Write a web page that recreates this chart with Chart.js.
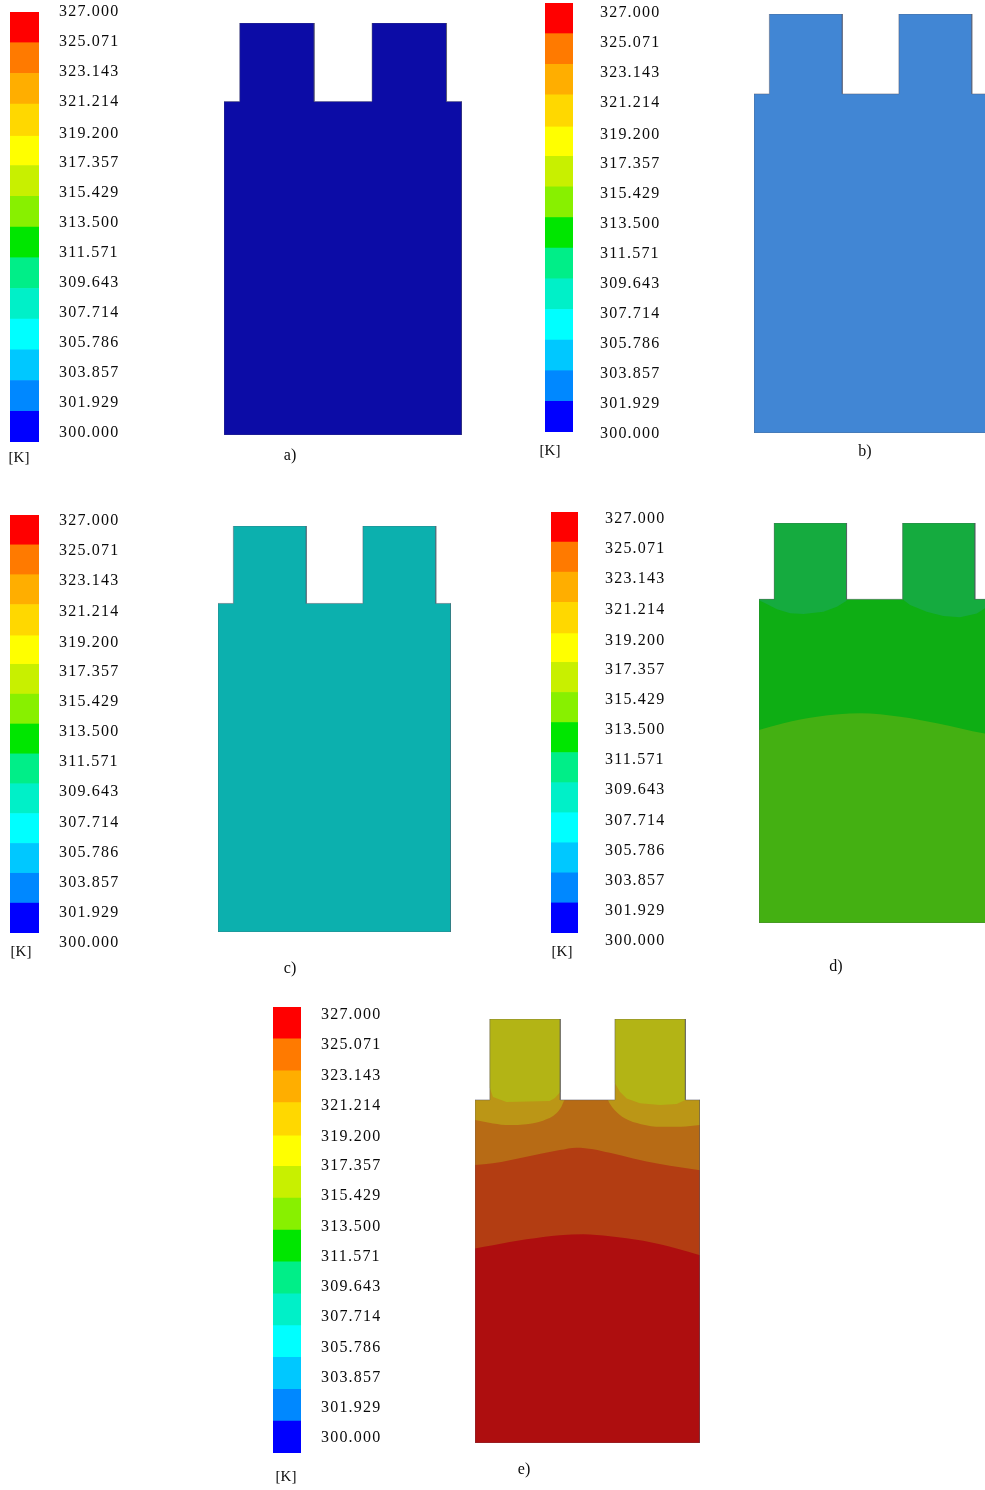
<!DOCTYPE html>
<html>
<head>
<meta charset="utf-8">
<script src="https://cdn.jsdelivr.net/npm/chart.js@4.4.1/dist/chart.umd.min.js"></script>
<style>
  html, body { margin: 0; padding: 0; background: #fff; }
  body { position: relative; width: 985px; height: 1490px; overflow: hidden; }
  .box { position: absolute; }
  .box canvas { display: block; }
  .txt { position: absolute; font-family: "Liberation Serif", "Times New Roman", serif; color: #0a0a0a;
         transform: translate(-50%, -50%); white-space: nowrap; line-height: 1; }
</style>
</head>
<body>
<script>
// ---------- legend: temperature levels [K] and their colours ----------
const LEVELS = [300.000, 301.929, 303.857, 305.786, 307.714, 309.643, 311.571,
                313.500, 315.429, 317.357, 319.200, 321.214, 323.143, 325.071, 327.000];
const LEVEL_COLORS = ['#0000ff', '#0088ff', '#00c8ff', '#00ffff', '#00f0c8', '#00ee88', '#00e600',
                      '#88f000', '#c8f000', '#ffff00', '#ffd800', '#ffae00', '#ff7a00', '#ff0000'];
const UNIT_LABEL = '[K]';
const PANEL_NAMES = ['a)', 'b)', 'c)', 'd)', 'e)'];

// ---------- cell geometry: body 100 wide x 140 high, two tabs up to 173 ----------
const OUTLINE_X = [0, 0, 6.6, 6.6, 37.9, 37.9, 62.2, 62.2, 93.5, 93.5, 100, 100, 0];
const OUTLINE_Y = [0, 140, 140, 173, 173, 140, 140, 173, 173, 140, 140, 0, 0];

// ---------- a), b), c): uniform fields ----------
const FIELD_A = '#0c0ca6';
const FIELD_B = '#4186d4';
const FIELD_C = '#0cb0ae';

// ---------- d): three zones ----------
const D_COLORS = { body: '#0eae14', lower: '#44b012', tabs: '#15ab3f' };
const D_LOWER_X = [0, 10.6, 25.1, 43.8, 61.1, 77.0, 97.7, 100];
const D_LOWER_Y = [83.5, 86.4, 89.2, 90.7, 89.2, 86.4, 82.0, 81.8];
const D_TAB1_X = [6.6, 37.9, 37.9, 33.7, 27.9, 19.3, 13.5, 7.8, 2.7, 0, 0, 6.6];
const D_TAB1_Y = [173, 173, 139.4, 136.8, 134.6, 133.6, 134.0, 135.7, 138.3, 139.6, 140, 140];
const D_TAB2_X = [62.2, 93.5, 93.5, 100, 100, 97.8, 94.3, 87.0, 79.8, 72.6, 65.4, 62.2];
const D_TAB2_Y = [173, 173, 140, 140, 137.1, 136.1, 133.9, 132.2, 132.8, 134.6, 137.5, 140];

// ---------- e): five zones ----------
const E_COLORS = ['#b3b415', '#bb9616', '#b76b15', '#b33d12', '#ae0e0f'];
const E_B2_X = [0, 8.0, 15.4, 22.8, 30.2, 36.2, 38.4, 39.9, 40.7, 59.0, 59.8, 62.0, 66.5, 73.8, 82.7, 91.6, 100];
const E_B2_Y = [131.8, 130.4, 129.7, 130.1, 131.5, 134.5, 137.2, 139.9, 140, 140, 138.6, 135.9, 132.5, 130.1, 129.0, 129.0, 129.7];
const E_B3_X = [0, 8.0, 22.9, 37.7, 45.1, 52.5, 59.9, 70.3, 82.2, 100];
const E_B3_Y = [113.4, 114.1, 116.8, 119.5, 120.5, 119.9, 118.4, 116.1, 113.8, 111.3];
const E_B4_X = [0, 8.0, 22.9, 37.7, 48.1, 59.9, 74.8, 89.6, 100];
const E_B4_Y = [79.4, 80.7, 83.1, 84.8, 85.2, 84.4, 82.5, 79.4, 76.6];
const E_TAB1_X = [6.6, 37.9, 37.9, 35.5, 33.2, 14.0, 8.0, 6.6];
const E_TAB1_Y = [173, 173, 143.2, 140.8, 139.5, 139.1, 141.2, 144.8];
const E_TAB2_X = [62.2, 93.5, 93.5, 89.6, 82.2, 73.3, 67.4, 64.4, 62.2];
const E_TAB2_Y = [173, 173, 139.9, 138.3, 137.9, 138.6, 140.6, 143.3, 146.8];

// ---------- page layout (px) ----------
// bar: [left, top, right, bottom]; lab: [text left, centre of top label, centre of bottom label]
const LAYOUT = [
  { bar: [10, 12, 39, 442],    lab: [59, 12, 433],    cell: [224, 23, 462, 435],   unit: [19, 457],  name: [290, 455] },
  { bar: [545, 3, 573, 432],   lab: [600, 13, 434],   cell: [754, 14, 987, 433],   unit: [550, 450], name: [865, 451] },
  { bar: [10, 515, 39, 933],   lab: [59, 521, 943],   cell: [218, 526, 451, 932],  unit: [21, 951],  name: [290, 968] },
  { bar: [551, 512, 578, 933], lab: [605, 519, 941],  cell: [759, 523, 990, 923],  unit: [562, 951], name: [836, 966] },
  { bar: [273, 1007, 301, 1453], lab: [321, 1015, 1438], cell: [475, 1019, 700, 1443], unit: [286, 1476], name: [524, 1469] }
];

const FONT = 'Liberation Serif';

function pts(xs, ys) { return xs.map((x, i) => ({ x: x, y: ys[i] })); }

function makeCanvas(left, top, w, h) {
  const d = document.createElement('div');
  d.className = 'box';
  d.style.left = left + 'px'; d.style.top = top + 'px';
  d.style.width = w + 'px'; d.style.height = h + 'px';
  const c = document.createElement('canvas');
  c.width = w; c.height = h;
  c.style.width = w + 'px'; c.style.height = h + 'px';
  d.appendChild(c);
  document.body.appendChild(d);
  return c;
}

function addText(str, cx, cy, size) {
  const t = document.createElement('div');
  t.className = 'txt';
  t.style.left = cx + 'px'; t.style.top = cy + 'px';
  t.style.fontSize = size + 'px';
  t.textContent = str;
  document.body.appendChild(t);
}

// wider digit spacing on the legend labels
const labelSpacing = { id: 'labelSpacing', beforeDraw(chart) { chart.ctx.letterSpacing = '1.2px'; } };

function colorbar(L) {
  const [bl, bt, br, bb] = L.bar;
  const [lx, lt, lb] = L.lab;
  const axisW = 105, pad = 50;
  const lo = LEVELS[0], hi = LEVELS[LEVELS.length - 1];
  const k = (lb - lt) / (hi - lo);              // px per K for the label column
  const labMax = hi + (lt - bt) / k;
  const labMin = labMax - (bb - bt) / k;
  const canvas = makeCanvas(bl, bt - pad, (br - bl) + axisW, (bb - bt) + 2 * pad);
  new Chart(canvas, {
    type: 'bar',
    data: {
      labels: [''],
      datasets: LEVEL_COLORS.map((c, i) => ({
        data: [[LEVELS[i], LEVELS[i + 1]]],
        backgroundColor: c, borderWidth: 0,
        barPercentage: 1, categoryPercentage: 1, grouped: false, yAxisID: 'y'
      }))
    },
    options: {
      responsive: false, animation: false, events: [],
      layout: { padding: { top: pad, bottom: pad, left: 0, right: 0 } },
      plugins: { legend: { display: false }, tooltip: { enabled: false } },
      scales: {
        x: { display: false },
        y: { display: false, min: lo, max: hi },
        y2: {
          type: 'linear', position: 'right', min: labMin, max: labMax, bounds: 'data',
          grid: { display: false, drawTicks: false }, border: { display: false },
          afterBuildTicks: s => { s.ticks = LEVELS.map(v => ({ value: v })); },
          afterFit: s => { s.width = axisW; },
          ticks: {
            autoSkip: false, padding: lx - br, color: '#0a0a0a',
            font: { family: FONT, size: 16 },
            callback: v => Number(v).toFixed(3)
          }
        }
      }
    },
    plugins: [labelSpacing]
  });
}

// layer helpers (listed bottom first)
function shape(xs, ys, color) {
  return { data: pts(xs, ys), showLine: true, fill: 'shape', backgroundColor: color,
           borderColor: 'rgba(0,0,0,0)', borderWidth: 0, tension: 0, pointRadius: 0 };
}
function below(xs, ys, color) {
  return { data: pts(xs, ys), showLine: true, fill: 'start', backgroundColor: color,
           borderColor: 'rgba(0,0,0,0)', borderWidth: 0, cubicInterpolationMode: 'monotone', pointRadius: 0 };
}
function edge() {
  return { data: pts(OUTLINE_X, OUTLINE_Y), showLine: true, fill: false,
           borderColor: 'rgba(85,85,100,0.45)', borderWidth: 1, tension: 0, pointRadius: 0 };
}

function cell(L, layers) {
  const [l, t, r, b] = L.cell;
  const pad = 3;
  const canvas = makeCanvas(l - pad, t - pad, (r - l) + 2 * pad, (b - t) + 2 * pad);
  const n = layers.length;
  layers.forEach((ds, i) => { ds.order = n - i; });
  new Chart(canvas, {
    type: 'scatter',
    data: { datasets: layers },
    options: {
      responsive: false, animation: false, events: [],
      layout: { padding: pad },
      plugins: { legend: { display: false }, tooltip: { enabled: false } },
      elements: { point: { radius: 0 } },
      scales: {
        x: { type: 'linear', display: false, min: 0, max: 100 },
        y: { type: 'linear', display: false, min: 0, max: 173 }
      }
    }
  });
}

// ---------- draw the five panels ----------
LAYOUT.forEach((L, i) => {
  colorbar(L);
  addText(UNIT_LABEL, L.unit[0], L.unit[1], 15);
  addText(PANEL_NAMES[i], L.name[0], L.name[1], 16);
});

cell(LAYOUT[0], [shape(OUTLINE_X, OUTLINE_Y, FIELD_A), edge()]);
cell(LAYOUT[1], [shape(OUTLINE_X, OUTLINE_Y, FIELD_B), edge()]);
cell(LAYOUT[2], [shape(OUTLINE_X, OUTLINE_Y, FIELD_C), edge()]);
cell(LAYOUT[3], [
  shape(OUTLINE_X, OUTLINE_Y, D_COLORS.body),
  below(D_LOWER_X, D_LOWER_Y, D_COLORS.lower),
  shape(D_TAB1_X, D_TAB1_Y, D_COLORS.tabs),
  shape(D_TAB2_X, D_TAB2_Y, D_COLORS.tabs),
  edge()
]);
cell(LAYOUT[4], [
  shape(OUTLINE_X, OUTLINE_Y, E_COLORS[1]),
  below(E_B2_X, E_B2_Y, E_COLORS[2]),
  below(E_B3_X, E_B3_Y, E_COLORS[3]),
  below(E_B4_X, E_B4_Y, E_COLORS[4]),
  shape(E_TAB1_X, E_TAB1_Y, E_COLORS[0]),
  shape(E_TAB2_X, E_TAB2_Y, E_COLORS[0]),
  edge()
]);
</script>
</body>
</html>
